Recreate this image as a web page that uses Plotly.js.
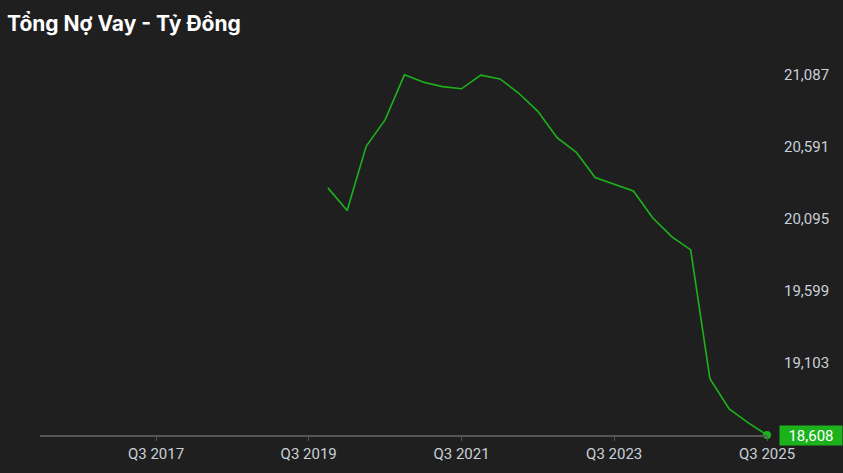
<!DOCTYPE html>
<html>
<head>
<meta charset="utf-8">
<script src="https://cdn.plot.ly/plotly-3.0.1.min.js"></script>
<style>
html,body{margin:0;padding:0;background:#1f1f1f;}
#chart{width:843px;height:473px;}
</style>
</head>
<body>
<div id="chart"></div>
<script>
// Quarter start dates (Q4 2019 .. Q3 2025)
const quarters = [
  "2019-10-01","2020-01-01","2020-04-01","2020-07-01",
  "2020-10-01","2021-01-01","2021-04-01","2021-07-01",
  "2021-10-01","2022-01-01","2022-04-01","2022-07-01",
  "2022-10-01","2023-01-01","2023-04-01","2023-07-01",
  "2023-10-01","2024-01-01","2024-04-01","2024-07-01",
  "2024-10-01","2025-01-01","2025-04-01","2025-07-01"
];
// Total borrowings (billion VND)
const debt = [
  20309, 20153, 20595, 20779,
  21087, 21036, 21006, 20991,
  21085, 21059, 20960, 20836,
  20655, 20554, 20380, 20333,
  20288, 20103, 19974, 19882,
  18996, 18788, 18693, 18608
];
const xTickVals = ["2017-07-01","2019-07-01","2021-07-01","2023-07-01","2025-07-01"];
const xTickText = ["Q3 2017","Q3 2019","Q3 2021","Q3 2023","Q3 2025"];
const yTickVals = [19103, 19599, 20095, 20591, 21087];
const yTickText = ["19,103","19,599","20,095","20,591","21,087"];
const lastLabel = "18,608";

const green = "#1cb21c";
const lastX = quarters[quarters.length-1];
const lastY = debt[debt.length-1];

const traces = [
  {x: quarters, y: debt, type: "scatter", mode: "lines",
   line: {color: green, width: 1.6}, hoverinfo: "skip"},
  {x: [lastX], y: [lastY], type: "scatter", mode: "markers",
   marker: {color: green, size: 8}, hoverinfo: "skip", cliponaxis: false}
];

const layout = {
  width: 843, height: 473,
  paper_bgcolor: "#1f1f1f", plot_bgcolor: "#1f1f1f",
  margin: {l: 40, r: 76, t: 50, b: 38},
  showlegend: false,
  title: {
    text: "<b>Tổng Nợ Vay - Tỷ Đồng</b>",
    font: {family: "Inter, Roboto, sans-serif", size: 21, color: "#ffffff"},
    xref: "container", yref: "container",
    x: 7/843, xanchor: "left", y: 1 - 24/473, yanchor: "middle"
  },
  xaxis: {
    type: "date",
    range: ["2015-12-24", "2025-07-01"],
    tickvals: xTickVals, ticktext: xTickText,
    showgrid: false, zeroline: false,
    showline: true, linecolor: "#555555", linewidth: 1.5,
    ticks: "outside", ticklen: 4, tickcolor: "#555555", tickwidth: 1,
    tickfont: {family: "Roboto, sans-serif", size: 15, color: "#c9d0d8"},
    fixedrange: true
  },
  yaxis: {
    side: "right",
    range: [18608, 21258],
    tickvals: yTickVals, ticktext: yTickText,
    showgrid: false, zeroline: false, showline: false,
    ticks: "", ticklabelstandoff: 16,
    tickfont: {family: "Roboto, sans-serif", size: 15, color: "#c9d0d8"},
    fixedrange: true
  },
  annotations: [{
    x: lastX, y: lastY, xref: "x", yref: "y",
    text: lastLabel, showarrow: false,
    xanchor: "left", yanchor: "middle", xshift: 12,
    bgcolor: green, borderpad: 0, width: 62, height: 19,
    font: {family: "Roboto, sans-serif", size: 15, color: "#ffffff"}
  }]
};

Plotly.newPlot("chart", traces, layout, {displayModeBar: false, staticPlot: true});
</script>
</body>
</html>
